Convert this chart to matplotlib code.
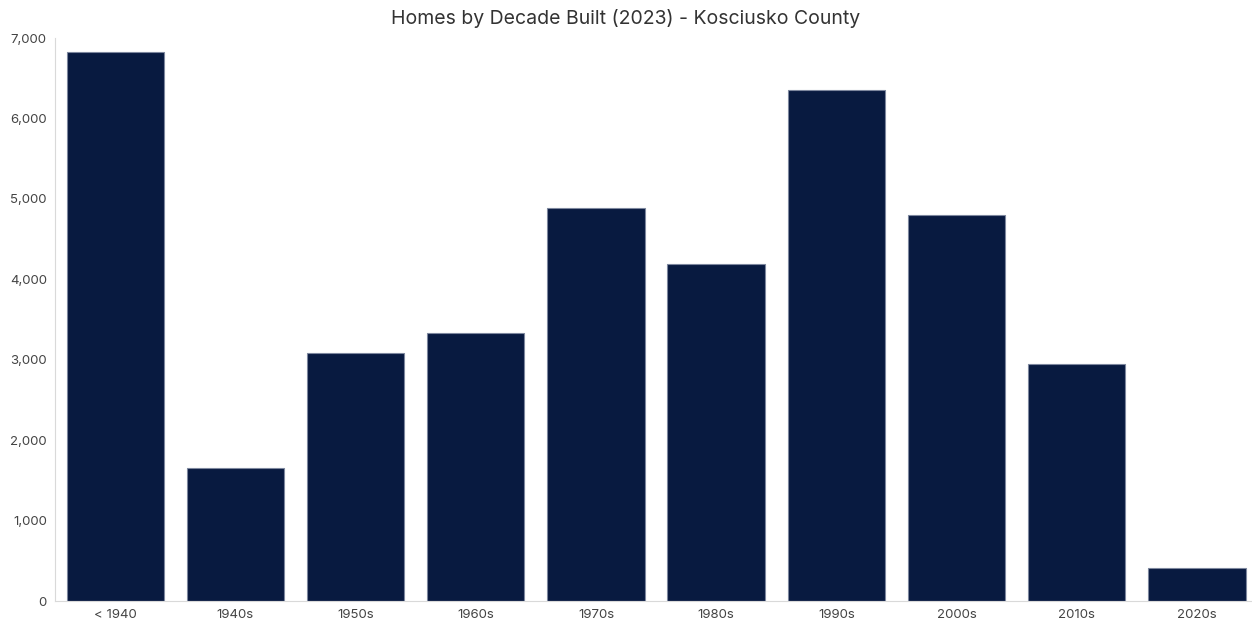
import matplotlib
matplotlib.use("Agg")
import matplotlib.pyplot as plt
from matplotlib.ticker import FuncFormatter

decades = ['< 1940', '1940s', '1950s', '1960s', '1970s', '1980s', '1990s', '2000s', '2010s', '2020s']
homes = [6830, 1655, 3085, 3330, 4890, 4190, 6355, 4800, 2945, 410]

plt.rcParams['font.family'] = ['Inter', 'DejaVu Sans']

fig = plt.figure(figsize=(12.52, 6.25), dpi=100)
ax = fig.add_axes([0.044, 0.0384, 0.96, 0.9006])

ax.bar(range(len(decades)), homes, width=0.81, color='#081a40',
       edgecolor='#7d879e', linewidth=0.8)

ax.set_xlim(-0.5, len(decades) - 0.5)
ax.set_ylim(0, 7000)
ax.set_yticks(range(0, 7001, 1000))
ax.yaxis.set_major_formatter(FuncFormatter(lambda v, p: f'{int(v):,}'))
ax.set_xticks(range(len(decades)))
ax.set_xticklabels(decades)

for s in ['top', 'right']:
    ax.spines[s].set_visible(False)
ax.spines['left'].set_color('#d9d9d9')
ax.spines['bottom'].set_color('#d9d9d9')
ax.tick_params(length=0, labelsize=9.5, colors='#444444', pad=6)
ax.tick_params(axis='y', pad=6)

fig.suptitle('Homes by Decade Built (2023) - Kosciusko County', y=0.985,
             fontsize=14, color='#333333')

fig.savefig('out.png', dpi=100)
